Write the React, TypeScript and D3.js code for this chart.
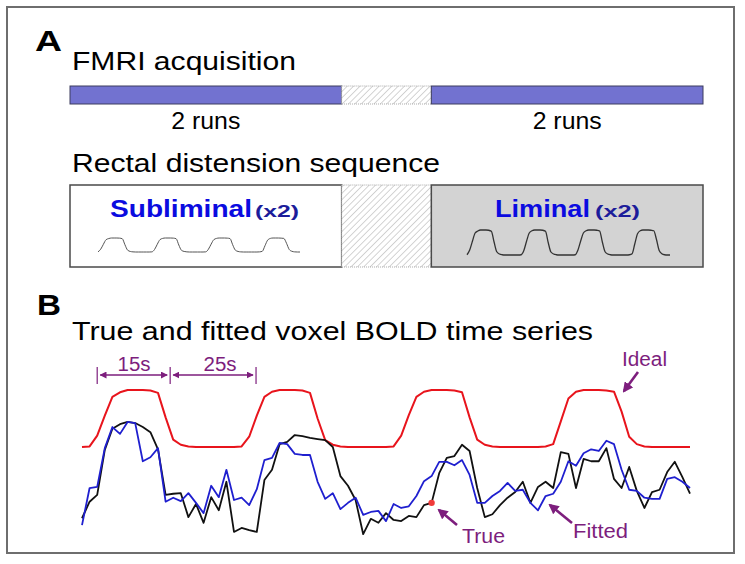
import React from 'react';
import * as d3 from 'd3';

// sampling interval (s) of the time series
const TR = 2;

// Ideal (convolved boxcar) response, one value per TR, 0..160 s
const ideal = [
  0, 0.01, 0.2, 0.55, 0.88, 0.96, 1, 1, 1, 0.99, 0.95, 0.52, 0.13, 0.04, 0.01, 0, 0, 0, 0, 0,
  0, 0.01, 0.18, 0.55, 0.88, 0.97, 1, 1, 1, 0.99, 0.95, 0.5, 0.12, 0.04, 0.01, 0, 0, 0, 0, 0,
  0, 0.01, 0.2, 0.56, 0.88, 0.97, 1, 1, 1, 0.99, 0.96, 0.52, 0.13, 0.04, 0.01, 0, 0, 0, 0, 0,
  0, 0.01, 0.05, 0.45, 0.85, 0.97, 1, 1, 1, 0.99, 0.97, 0.62, 0.18, 0.05, 0.01, 0, 0, 0, 0, 0,
  0,
];

// True voxel BOLD series (black)
const trueSeries = [
  -1.25, -0.96, -0.84, -0.05, 0.32, 0.4, 0.44, 0.42, 0.35, 0.26,
  -0.04, -0.84, -0.82, -0.81, -1.23, -1.0, -1.33, -0.88, -1.11, -0.61,
  -1.49, -1.42, -1.46, -1.49, -0.58, -0.4, 0.05, 0.09, 0.21, 0.19,
  0.16, 0.14, 0.12, 0.0, -0.51, -0.68, -0.93, -1.53, -1.26, -1.33,
  -1.16, -1.28, -1.3, -1.21, -1.23, -1.02, -0.98, -0.46, -0.19, -0.16,
  0.04, -0.07, -0.72, -1.23, -1.18, -1.02, -0.89, -0.79, -0.61, -0.98,
  -0.7, -0.61, -0.72, -0.09, -0.12, -0.72, -0.21, -0.25, -0.25, -0.02,
  -0.56, -0.72, -0.35, -0.77, -1.07, -0.79, -0.75, -0.44, -0.26, -0.53,
  -0.82,
];

// Fitted voxel BOLD series (blue)
const fittedSeries = [
  -1.37, -0.72, -0.7, -0.02, 0.35, 0.23, 0.44, 0.42, -0.25, -0.18,
  -0.02, -0.96, -0.89, -0.95, -0.81, -0.98, -1.16, -0.68, -0.88, -0.4,
  -0.93, -0.89, -1.02, -0.74, -0.23, -0.19, 0.07, 0.05, -0.12, -0.14,
  -0.14, -0.61, -0.91, -0.81, -1.09, -0.98, -0.89, -1.19, -1.14, -1.12,
  -1.3, -1.0, -1.07, -1.04, -0.86, -0.6, -0.51, -0.26, -0.26, -0.32,
  -0.23, -0.49, -0.98, -0.98, -0.86, -0.77, -0.63, -0.77, -0.75, -0.98,
  -1.11, -0.86, -0.82, -0.61, -0.25, -0.33, -0.11, -0.04, -0.07, 0.11,
  0.05, -0.4, -0.75, -0.77, -0.89, -0.91, -0.91, -0.56, -0.53, -0.61,
  -0.72,
];

// marked sample on the true series (index)
const markedIndex = 46;

// acquisition schedule (fraction of total session)
const segments = [
  { label: '2 runs', kind: 'run', start: 0, end: 1 },
  { label: '', kind: 'gap', start: 1, end: 1.33 },
  { label: '2 runs', kind: 'run', start: 1.33, end: 2.33 },
];

const PURPLE = '#7d1e7d';
const FONT = '"Liberation Sans", Arial, Helvetica, sans-serif';

export default function App() {
  const W = 745;
  const H = 564;

  const x = d3.scaleLinear().domain([0, 160]).range([82, 690]);
  const y = d3.scaleLinear().domain([0, 1]).range([447, 390]);

  const line = d3
    .line<number>()
    .x((_, i) => x(i * TR))
    .y((d) => y(d));

  const seg = d3.scaleLinear().domain([0, 2.33]).range([70, 703]);

  // mini waves
  const xs = d3.scaleLinear().domain([2, 152]).range([98, 300]);
  const ys = d3.scaleLinear().domain([0, 1]).range([252, 238]);
  const xl = d3.scaleLinear().domain([2, 152]).range([467, 670]);
  const yl = d3.scaleLinear().domain([0, 1]).range([255, 230]);
  const miniIdx = ideal.map((_, i) => i).filter((i) => i * TR >= 2 && i * TR <= 152);
  const miniSub = d3
    .line<number>()
    .curve(d3.curveMonotoneX)
    .x((i) => xs(i * TR))
    .y((i) => ys(ideal[i]))(miniIdx);
  const miniLim = d3
    .line<number>()
    .curve(d3.curveMonotoneX)
    .x((i) => xl(i * TR))
    .y((i) => yl(ideal[i]))(miniIdx);

  const bracketY = 375;
  const brackets = [
    { label: '15s', t0: 4, t1: 23.2, tx: 134 },
    { label: '25s', t0: 23.2, t1: 45.8, tx: 220 },
  ];

  return (
    <svg
      width={W}
      height={H}
      style={{ position: 'absolute', left: 0, top: 0, background: '#fff' }}
      fontFamily={FONT}
    >
      <defs>
        <pattern
          id="hatch"
          width="4.5"
          height="4.5"
          patternUnits="userSpaceOnUse"
          patternTransform="rotate(45)"
        >
          <rect width="4.5" height="4.5" fill="#fff" />
          <line x1="0" y1="0" x2="0" y2="4.5" stroke="#a9a9a9" strokeWidth="1" />
        </pattern>
        <marker
          id="ahBig"
          viewBox="0 0 10 10"
          refX="8"
          refY="5"
          markerWidth="4"
          markerHeight="4"
          orient="auto"
          markerUnits="strokeWidth"
        >
          <path d="M0,0 L10,5 L0,10 z" fill={PURPLE} />
        </marker>
        <marker
          id="ahSmall"
          viewBox="0 0 10 10"
          refX="9"
          refY="5"
          markerWidth="7"
          markerHeight="7"
          orient="auto-start-reverse"
          markerUnits="userSpaceOnUse"
        >
          <path d="M0,0 L10,5 L0,10 z" fill={PURPLE} />
        </marker>
      </defs>

      <rect x={7} y={7} width={727} height={546} fill="#fff" stroke="#6e6e6e" strokeWidth={2} />

      {/* Panel A */}
      <text x={35} y={51} fontSize={30} fontWeight="bold" textLength={27} lengthAdjust="spacingAndGlyphs">
        A
      </text>
      <text x={72} y={70} fontSize={26} textLength={224} lengthAdjust="spacingAndGlyphs">
        FMRI acquisition
      </text>

      {segments.map((s, i) => (
        <g key={i}>
          <rect
            x={seg(s.start)}
            y={86}
            width={seg(s.end) - seg(s.start)}
            height={18}
            fill={s.kind === 'run' ? '#7272d0' : 'url(#hatch)'}
            stroke={s.kind === 'run' ? '#3d3d5e' : '#aaa'}
            strokeWidth={1}
            strokeDasharray={s.kind === 'run' ? undefined : '1,1'}
          />
          {s.label && (
            <text
              x={(seg(s.start) + seg(s.end)) / 2}
              y={129}
              fontSize={24}
              textAnchor="middle"
              textLength={69}
              lengthAdjust="spacingAndGlyphs"
            >
              {s.label}
            </text>
          )}
        </g>
      ))}

      <text x={72} y={172} fontSize={26} textLength={368} lengthAdjust="spacingAndGlyphs">
        Rectal distension sequence
      </text>

      {/* stimulus boxes */}
      <rect x={seg(0)} y={185} width={seg(1) - seg(0)} height={82} fill="#fff" stroke="#4a4a4a" strokeWidth={1.5} />
      <rect x={seg(1)} y={185} width={seg(1.33) - seg(1)} height={82} fill="url(#hatch)" stroke="#aaa" strokeWidth={1} strokeDasharray="1,1" />
      <rect x={seg(1.33)} y={185} width={seg(2.33) - seg(1.33)} height={82} fill="#d3d3d3" stroke="#4a4a4a" strokeWidth={1.5} />

      <text x={110} y={217} fontSize={24} fontWeight="bold" fill="#0b0be0" textLength={142} lengthAdjust="spacingAndGlyphs">
        Subliminal
      </text>
      <text x={255} y={217} fontSize={17} fontWeight="bold" fill="#1c1c9a" textLength={44} lengthAdjust="spacingAndGlyphs">
        (x2)
      </text>
      <path d={miniSub || ''} fill="none" stroke="#555" strokeWidth={1} />

      <text x={495} y={217} fontSize={24} fontWeight="bold" fill="#0b0be0" textLength={95} lengthAdjust="spacingAndGlyphs">
        Liminal
      </text>
      <text x={595} y={217} fontSize={17} fontWeight="bold" fill="#1c1c9a" textLength={45} lengthAdjust="spacingAndGlyphs">
        (x2)
      </text>
      <path d={miniLim || ''} fill="none" stroke="#333" strokeWidth={1.3} />

      {/* Panel B */}
      <text x={37} y={315} fontSize={30} fontWeight="bold" textLength={24} lengthAdjust="spacingAndGlyphs">
        B
      </text>
      <text x={72} y={340} fontSize={26} textLength={521} lengthAdjust="spacingAndGlyphs">
        True and fitted voxel BOLD time series
      </text>

      {/* brackets */}
      {[brackets[0].t0, brackets[0].t1, brackets[1].t1].map((t, i) => (
        <line key={i} x1={x(t)} x2={x(t)} y1={367} y2={384} stroke={PURPLE} strokeWidth={1.2} />
      ))}
      {brackets.map((b, i) => (
        <g key={i}>
          <line
            x1={x(b.t0) + 3}
            x2={x(b.t1) - 3}
            y1={bracketY}
            y2={bracketY}
            stroke={PURPLE}
            strokeWidth={1.3}
            markerStart="url(#ahSmall)"
            markerEnd="url(#ahSmall)"
          />
          <text x={b.tx} y={371} fontSize={20} fill={PURPLE} textAnchor="middle" textLength={33} lengthAdjust="spacingAndGlyphs">
            {b.label}
          </text>
        </g>
      ))}

      {/* series */}
      <path d={line(ideal) || ''} fill="none" stroke="#e8141c" strokeWidth={2} strokeLinejoin="round" />
      <path d={line(trueSeries) || ''} fill="none" stroke="#111" strokeWidth={1.8} strokeLinejoin="round" />
      <path d={line(fittedSeries) || ''} fill="none" stroke="#1f1fcf" strokeWidth={1.8} strokeLinejoin="round" />

      <circle cx={x(markedIndex * TR)} cy={y(trueSeries[markedIndex])} r={3.2} fill="#f03a3a" />

      {/* annotations */}
      <text x={622} y={366} fontSize={20} fill={PURPLE} textLength={45} lengthAdjust="spacingAndGlyphs">
        Ideal
      </text>
      <line x1={638} y1={372} x2={624} y2={391} stroke={PURPLE} strokeWidth={2.6} markerEnd="url(#ahBig)" />

      <text x={462} y={543} fontSize={20} fill={PURPLE} textLength={43} lengthAdjust="spacingAndGlyphs">
        True
      </text>
      <line x1={457} y1={525} x2={439} y2={510} stroke={PURPLE} strokeWidth={2.6} markerEnd="url(#ahBig)" />

      <text x={573} y={538} fontSize={20} fill={PURPLE} textLength={55} lengthAdjust="spacingAndGlyphs">
        Fitted
      </text>
      <line x1={572} y1={523} x2={550} y2={505} stroke={PURPLE} strokeWidth={2.6} markerEnd="url(#ahBig)" />
    </svg>
  );
}
